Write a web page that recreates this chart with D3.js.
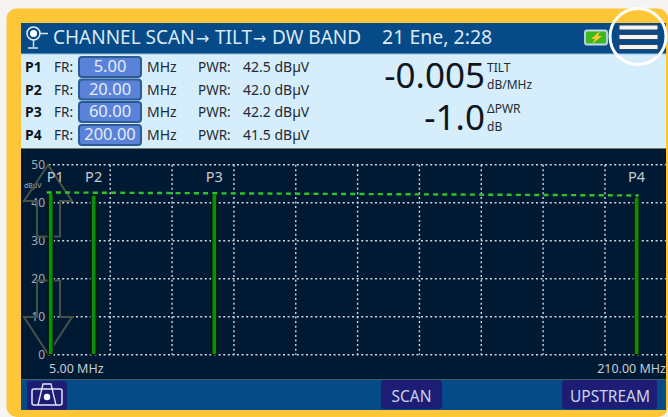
<!DOCTYPE html>
<html><head><meta charset="utf-8">
<script src="https://cdn.jsdelivr.net/npm/d3@7/dist/d3.min.js"></script>
<style>html,body{margin:0;padding:0;background:#f5f4f2;overflow:hidden}svg{display:block}text{font-family:"Noto Sans",sans-serif}</style>
</head><body><svg id="c" width="668" height="417"></svg>
<script>
const markers=["P1","P2","P3","P4"];
const freqs=[5,20,60,200];
const freqLabels=["5.00","20.00","60.00","200.00"];
const powers=[42.5,42.0,42.2,41.5];
const powerLabels=["42.5 dBµV","42.0 dBµV","42.2 dBµV","41.5 dBµV"];
const yTicks=[0,10,20,30,40,50];
const xGrid=[25.5,46,66.5,87,107.5,128,148.5,169,189.5];
const svg=d3.select("#c");
const rect=(x,y,w,h,f,extra={})=>{const r=svg.append("rect").attr("x",x).attr("y",y).attr("width",w).attr("height",h).attr("fill",f);Object.entries(extra).forEach(([k,v])=>r.attr(k,v));return r};
const text=(x,y,s,size,f,anchor="start",weight=400)=>svg.append("text").attr("x",x).attr("y",y).attr("font-size",size).attr("fill",f).attr("text-anchor",anchor).attr("font-weight",weight).text(s);

rect(6.5,8.5,661.5,408.5,"#ffc738",{rx:10});
rect(21,23,645,30.5,"#064a87");
rect(21,53.5,645,95,"#d6eefc");
rect(21,53,645,1.2,"#4c88b8");
rect(21,148.5,645,231,"#011a33");
rect(21,379.5,645,30.5,"#064a87");

// header
svg.append("circle").attr("cx",33.5).attr("cy",33.5).attr("r",6.5).attr("fill","none").attr("stroke","#e6eef5").attr("stroke-width",1.5);
svg.append("circle").attr("cx",33.5).attr("cy",33.5).attr("r",3.5).attr("fill","#fff");
svg.append("path").attr("d","M40 33.5H48M33.5 40V47M28 48H38").attr("stroke","#dbe7f0").attr("stroke-width",1.4).attr("fill","none");
const titleParts=[["CHANNEL SCAN",53],["→",196],["TILT",215],["→",253],["DW BAND",272]];
const titleText=text(0,44,"",19,"#dbe9f4");
titleParts.forEach(([s,px])=>titleText.append("tspan").attr("x",px).attr("font-family",s==="→"?"DejaVu Sans":null).attr("font-size",s==="→"?16:null).text(s));
text(382,44,"21 Ene, 2:28",19.5,"#dbe9f4");
rect(585,30.5,22,14,"#3db81f",{stroke:"#c3d8e6","stroke-width":1.8,rx:2});
svg.append("path").attr("d","M600 31L591 39H595L592 44L602 36H598Z").attr("fill","#ffc92e");
svg.append("circle").attr("cx",638).attr("cy",36.5).attr("r",28).attr("fill","none").attr("stroke","#fff").attr("stroke-width",3);
[27.5,37,47].forEach(y=>rect(619,y-2.5,39,5,"#f4f4f4",{rx:1,stroke:"#34475c","stroke-width":1}));

// marker table
const rowY=[72,94.5,117,140];
markers.forEach((m,i)=>{const y=rowY[i];
 text(25,y,m,14,"#0c1420","start",700);
 text(54,y,"FR:",13.5,"#222a33");
 rect(79,y-15,62,20,"#5a82d8",{rx:3,stroke:"#2b5b94","stroke-width":2});
 text(110,y,freqLabels[i],16.5,"#e4ecfa","middle");
 text(147,y,"MHz",14,"#222a33");
 text(198,y,"PWR:",13.5,"#222a33");
 text(243,y,powerLabels[i],14,"#222a33");
});

// readouts
text(485,88,"-0.005",35,"#10161d","end");
text(487,72,"TILT",12,"#222a33");
text(487,89,"dB/MHz",12,"#222a33");
text(485,130,"-1.0",35,"#10161d","end");
text(487,113,"ΔPWR",12,"#222a33");
text(487,131,"dB",12,"#222a33");

// plot
const x=d3.scaleLinear().domain([5,210]).range([48.4,666.8]);
const y=d3.scaleLinear().domain([0,50]).range([354.7,164.7]);
const grid=svg.append("g").attr("stroke","#cfd8de").attr("stroke-width",1.4).attr("stroke-dasharray","2 2.6");
yTicks.forEach(v=>grid.append("line").attr("x1",x(5)).attr("x2",x(210)-1).attr("y1",y(v)).attr("y2",y(v)));
xGrid.forEach(v=>grid.append("line").attr("x1",x(v)).attr("x2",x(v)).attr("y1",y(50)).attr("y2",y(0)));
yTicks.forEach(v=>text(45,y(v)+4.5,v,12,"#a3adb4","end"));
text(24,188,"dBµV",7,"#a9b3ba");

// ghost arrows
const arrows=svg.append("g").attr("fill","none").attr("stroke","#465248").attr("stroke-width",2);
arrows.append("path").attr("d","M48 165L24 201H37V236.5H60V201H72Z");
arrows.append("path").attr("d","M48 354L24 317H37V280.5H60V317H72Z");

// bars
const barX=f=>Math.max(x(f),x(5)+2.3);
svg.append("g").selectAll("rect").data(freqs).join("rect")
 .attr("x",d=>barX(d)-2.5).attr("width",5).attr("y",(d,i)=>y(powers[i])).attr("height",(d,i)=>y(0)-y(powers[i])).attr("fill","#0a8f0a").attr("stroke","#020f08").attr("stroke-width",1.2);
// tilt line
svg.append("line").attr("x1",barX(5)-4).attr("x2",barX(200)+2).attr("y1",y(42.7)).attr("y2",y(41.9)).attr("stroke","#2ec42a").attr("stroke-width",2.4).attr("stroke-dasharray","5 4.2");
markers.forEach((m,i)=>text(barX(freqs[i])+(i==0?4.5:0),182,m,14.5,"#c5ccd2","middle"));
text(49,372.5,"5.00 MHz",12.5,"#c5ccd2");
text(666,372.5,"210.00 MHz",12.5,"#c5ccd2","end");

// bottom buttons
rect(27,381,40,29,"#1e1d75",{rx:3});
svg.append("rect").attr("x",32).attr("y",389).attr("width",30).attr("height",16).attr("rx",2).attr("fill","none").attr("stroke","#e6e8f5").attr("stroke-width",1.5);
svg.append("path").attr("d","M38 405L43 384H51L56 405").attr("fill","none").attr("stroke","#e6e8f5").attr("stroke-width",1.3);
svg.append("circle").attr("cx",47).attr("cy",397).attr("r",3.2).attr("fill","#fff");
rect(381,380,61,29,"#1e1d75",{rx:3});
text(411.5,401.5,"SCAN",15.5,"#c9d3ec","middle");
rect(562,380,95,29,"#1e1d75",{rx:3});
text(610,401.5,"UPSTREAM",15.5,"#c9d3ec","middle");
</script></body></html>
